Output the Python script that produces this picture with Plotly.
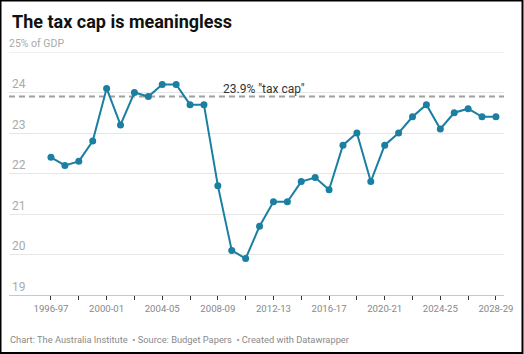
import plotly.graph_objects as go

years = list(range(1996, 2029))
year_labels = [f"{y}-{str(y + 1)[-2:]}" for y in years]
tax_to_gdp = [22.4, 22.2, 22.3, 22.8, 24.1, 23.2, 24.0, 23.9, 24.2, 24.2,
              23.7, 23.7, 21.7, 20.1, 19.9, 20.7, 21.3, 21.3, 21.8, 21.9,
              21.6, 22.7, 23.0, 21.8, 22.7, 23.0, 23.4, 23.7, 23.1, 23.5,
              23.6, 23.4, 23.4]
tax_cap = 23.9
cap_label = '23.9% "tax cap"'
y_ticks = [19, 20, 21, 22, 23, 24]
y_tick_text = ["19", "20", "21", "22", "23", "24"]
y_top = 25
y_top_text = "25% of GDP"
x_tick_vals = list(range(1996, 2029, 2))
x_tick_text = [f"{y}-{str(y + 1)[-2:]}" if (y - 1996) % 4 == 0 else "" for y in x_tick_vals]

W, H = 524, 354
L, R, T, B = 9, 20, 52, 59
PW, PH = W - L - R, H - T - B

def px(x):
    return (x - L) / PW

def py(y):
    return 1 - (y - T) / PH

fig = go.Figure()
fig.add_trace(go.Scatter(
    x=years, y=tax_to_gdp, mode="lines+markers",
    line=dict(color="#1b7fa2", width=2),
    marker=dict(color="#1b7fa2", size=7),
    customdata=year_labels, hoverinfo="skip", showlegend=False,
))

fig.add_shape(type="line", xref="paper", yref="y", x0=0, x1=1, y0=y_top, y1=y_top,
              line=dict(color="#e3e3e3", width=1), layer="below")
fig.add_annotation(text=y_top_text, xref="paper", yref="y", x=0, y=y_top,
                   xanchor="left", yanchor="bottom", showarrow=False, xshift=-2, yshift=0,
                   font=dict(family="Roboto", size=10.5, color="#aaaaaa"))

fig.add_shape(type="line", xref="paper", yref="y", x0=0, x1=1, y0=tax_cap, y1=tax_cap,
              line=dict(color="#a0a0a0", width=2, dash="6px,4px"), layer="below")
fig.add_annotation(text=cap_label, xref="x", yref="y", x=2011.35, y=tax_cap,
                   yanchor="bottom", xanchor="center", showarrow=False, yshift=-1,
                   font=dict(family="Roboto", size=12, color="#333333"))

fig.add_annotation(text="<b>The tax cap is meaningless</b>", xref="paper", yref="paper",
                   x=px(10), y=py(9), xanchor="left", yanchor="top", showarrow=False,
                   font=dict(family="Roboto", size=18, color="#111111"))
fig.add_annotation(text="Chart: The Australia Institute  • Source: Budget Papers  • Created with Datawrapper",
                   xref="paper", yref="paper", x=px(8), y=py(339), xanchor="left",
                   yanchor="middle", showarrow=False,
                   font=dict(family="Roboto", size=9.3, color="#8a8a8a"))

fig.add_shape(type="rect", xref="paper", yref="paper",
              x0=px(0.5), x1=px(W - 1.5), y0=py(0.5), y1=py(H - 1),
              line=dict(color="#000000", width=2), layer="above")

fig.update_xaxes(range=[1992.98, 2028.58], tickmode="array", tickvals=x_tick_vals,
                 ticktext=x_tick_text, ticks="outside", ticklen=4, tickwidth=1,
                 tickcolor="#333333", showgrid=False, showline=True, linecolor="#c8c8c8",
                 linewidth=1, zeroline=False,
                 tickfont=dict(family="Roboto", size=9.6, color="#888888"))
fig.update_yaxes(range=[19, 25], tickmode="array", tickvals=y_ticks, ticktext=y_tick_text,
                 ticklabelposition="inside top", showgrid=True, gridcolor="#e6e6e6",
                 gridwidth=1, zeroline=False, showline=False, ticks="",
                 tickfont=dict(family="Roboto", size=12, color="#aaaaaa"))

fig.update_layout(width=W, height=H, margin=dict(l=L, r=R, t=T, b=B),
                  plot_bgcolor="white", paper_bgcolor="white")
fig.write_html("out.html")
